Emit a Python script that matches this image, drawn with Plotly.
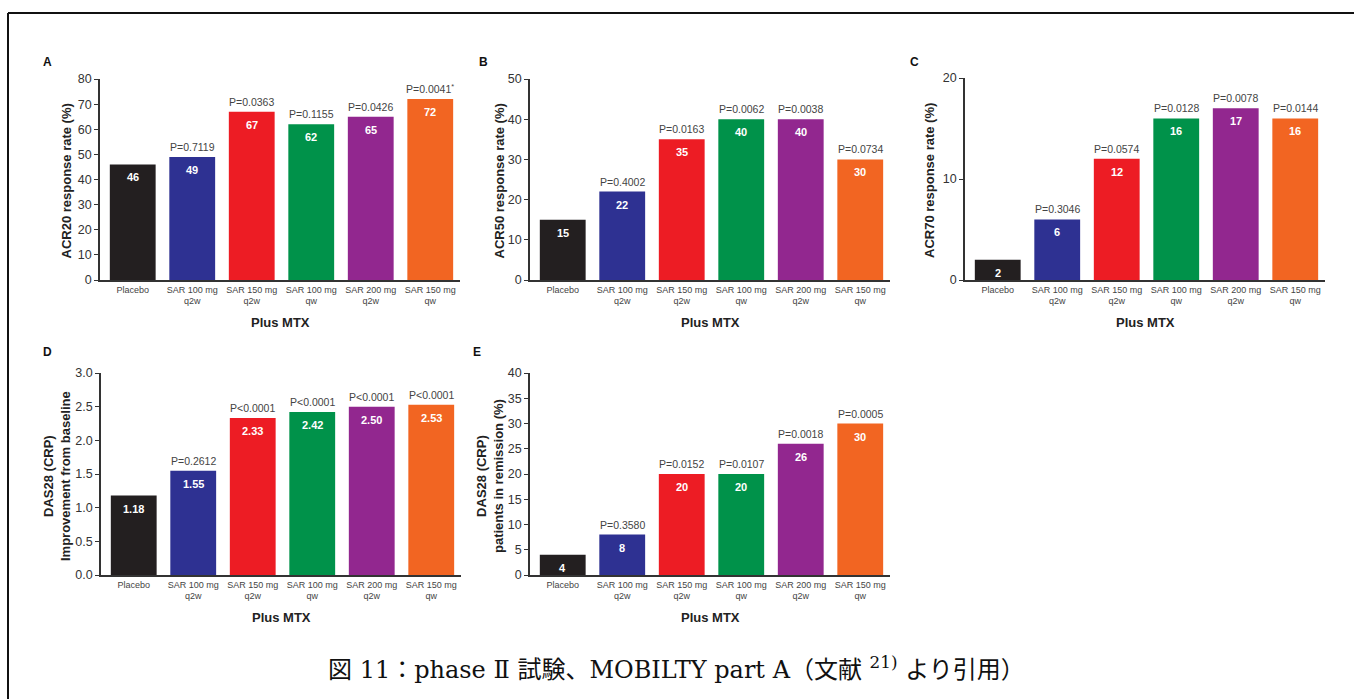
import plotly.graph_objects as go

# ---- data -------------------------------------------------------------
categories = ["Placebo", "SAR 100 mg<br>q2w", "SAR 150 mg<br>q2w",
              "SAR 100 mg<br>qw", "SAR 200 mg<br>q2w", "SAR 150 mg<br>qw"]
bar_colors = ["#231f20", "#2e3192", "#ed1c24", "#00924a", "#92278f", "#f26522"]

acr20 = [46, 49, 67, 62, 65, 72]
acr20_p = ["", "P=0.7119", "P=0.0363", "P=0.1155", "P=0.0426", "P=0.0041<sup>*</sup>"]

acr50 = [15, 22, 35, 40, 40, 30]
acr50_p = ["", "P=0.4002", "P=0.0163", "P=0.0062", "P=0.0038", "P=0.0734"]

acr70 = [2, 6, 12, 16, 17, 16]
acr70_p = ["", "P=0.3046", "P=0.0574", "P=0.0128", "P=0.0078", "P=0.0144"]

das28_change = [1.18, 1.55, 2.33, 2.42, 2.50, 2.53]
das28_change_p = ["", "P=0.2612", "P<0.0001", "P<0.0001", "P<0.0001", "P<0.0001"]

das28_remission = [4, 8, 20, 20, 26, 30]
das28_remission_p = ["", "P=0.3580", "P=0.0152", "P=0.0107", "P=0.0018", "P=0.0005"]

caption = "図 11：phase Ⅱ 試験、MOBILTY part A（文献 <sup>21)</sup> より引用）"

# ---- layout geometry (pixels) ----------------------------------------
W, H = 1354, 699
SANS = "Liberation Sans, Arial, sans-serif"
AX = "#333333"


def px(x):
    return x / W


def py(y):
    return 1 - y / H


panels = [
    dict(letter="A", vals=acr20, p=acr20_p, fmt="{:.0f}", yr=80, dt=10, tf="",
         title="ACR20 response rate (%)", x0=100, x1=460, top=79, bot=280,
         tx=66, letter_xy=(47, 62)),
    dict(letter="B", vals=acr50, p=acr50_p, fmt="{:.0f}", yr=50, dt=10, tf="",
         title="ACR50 response rate (%)", x0=530, x1=890, top=79, bot=280,
         tx=499, letter_xy=(483, 62)),
    dict(letter="C", vals=acr70, p=acr70_p, fmt="{:.0f}", yr=20, dt=10, tf="",
         title="ACR70 response rate (%)", x0=965, x1=1325, top=78, bot=280,
         tx=929, letter_xy=(914, 62)),
    dict(letter="D", vals=das28_change, p=das28_change_p, fmt="{:.2f}", yr=3.0, dt=0.5, tf=".1f",
         title="DAS28 (CRP)<br>Improvement from baseline", x0=101, x1=461, top=373, bot=575,
         tx=57, letter_xy=(47, 352)),
    dict(letter="E", vals=das28_remission, p=das28_remission_p, fmt="{:.0f}", yr=40, dt=5, tf="",
         title="DAS28 (CRP)<br>patients in remission (%)", x0=530, x1=890, top=373, bot=575,
         tx=490, letter_xy=(477, 352)),
]

fig = go.Figure()
annotations = []
layout_axes = {}

for n, pn in enumerate(panels, start=1):
    xa, ya = f"x{n}", f"y{n}"
    xkey = "xaxis" if n == 1 else f"xaxis{n}"
    ykey = "yaxis" if n == 1 else f"yaxis{n}"

    fig.add_trace(go.Bar(
        x=list(range(len(categories))), y=pn["vals"],
        marker=dict(color=bar_colors, line=dict(width=0)),
        xaxis=xa, yaxis=ya, showlegend=False, hoverinfo="skip",
    ))

    layout_axes[xkey] = dict(
        domain=[px(pn["x0"]), px(pn["x1"])], anchor=ya,
        range=[-0.55, 5.5], tickmode="array",
        tickvals=list(range(len(categories))), ticktext=categories,
        tickfont=dict(family=SANS, size=9, color="#444444"),
        showline=True, linecolor=AX, linewidth=1.5, ticks="",
        showgrid=False, zeroline=False, fixedrange=True, automargin=False,
    )
    layout_axes[ykey] = dict(
        domain=[py(pn["bot"]), py(pn["top"])], anchor=xa,
        range=[0, pn["yr"]], dtick=pn["dt"], tick0=0, tickformat=pn["tf"],
        tickfont=dict(family=SANS, size=12.5, color="#333333"),
        showline=True, linecolor=AX, linewidth=1.5,
        ticks="outside", ticklen=4, tickwidth=1.2, tickcolor=AX,
        showgrid=False, zeroline=False, fixedrange=True, automargin=False,
    )

    for i, v in enumerate(pn["vals"]):
        # value printed inside each bar, just below its top
        annotations.append(dict(
            x=i, y=v, xref=xa, yref=ya, text=f"<b>{pn['fmt'].format(v)}</b>",
            showarrow=False, yanchor="top", yshift=-5,
            font=dict(family=SANS, size=11, color="white"),
        ))
        if pn["p"][i]:
            annotations.append(dict(
                x=i, y=v, xref=xa, yref=ya, text=pn["p"][i],
                showarrow=False, yanchor="bottom", yshift=2,
                font=dict(family=SANS, size=10.5, color="#444444"),
            ))

    # y-axis title
    annotations.append(dict(
        x=px(pn["tx"]), y=py((pn["top"] + pn["bot"]) / 2 + 2), xref="paper", yref="paper",
        text=f"<b>{pn['title']}</b>", textangle=-90, showarrow=False,
        xanchor="center", yanchor="middle",
        font=dict(family=SANS, size=13, color="#222222"),
    ))
    # x-axis title
    annotations.append(dict(
        x=px((pn["x0"] + pn["x1"]) / 2), y=py(pn["bot"] + 42), xref="paper", yref="paper",
        text="<b>Plus MTX</b>", showarrow=False, xanchor="center", yanchor="middle",
        font=dict(family=SANS, size=13, color="#222222"),
    ))
    # panel letter
    lx, ly = pn["letter_xy"]
    annotations.append(dict(
        x=px(lx), y=py(ly), xref="paper", yref="paper",
        text=f"<b>{pn['letter']}</b>", showarrow=False, xanchor="center", yanchor="middle",
        font=dict(family=SANS, size=12, color="#111111"),
    ))

# figure caption
annotations.append(dict(
    x=px(676), y=py(668), xref="paper", yref="paper", text=caption,
    showarrow=False, xanchor="center", yanchor="middle",
    font=dict(family="DejaVu Serif, Noto Sans CJK JP, serif", size=24, color="#111111"),
))

# frame around the figure (left and top edges)
shapes = [
    dict(type="line", xref="paper", yref="paper", x0=px(8), x1=px(8), y0=0, y1=py(13),
         line=dict(color="#111111", width=2)),
    dict(type="line", xref="paper", yref="paper", x0=px(8), x1=1, y0=py(13), y1=py(13),
         line=dict(color="#111111", width=2)),
]

fig.update_layout(
    width=W, height=H,
    margin=dict(l=0, r=0, t=0, b=0, pad=0, autoexpand=False),
    paper_bgcolor="white", plot_bgcolor="white",
    bargap=0.23, showlegend=False,
    annotations=annotations, shapes=shapes,
    **layout_axes,
)

fig.write_html("out.html", include_plotlyjs=True, config={"displayModeBar": False})
